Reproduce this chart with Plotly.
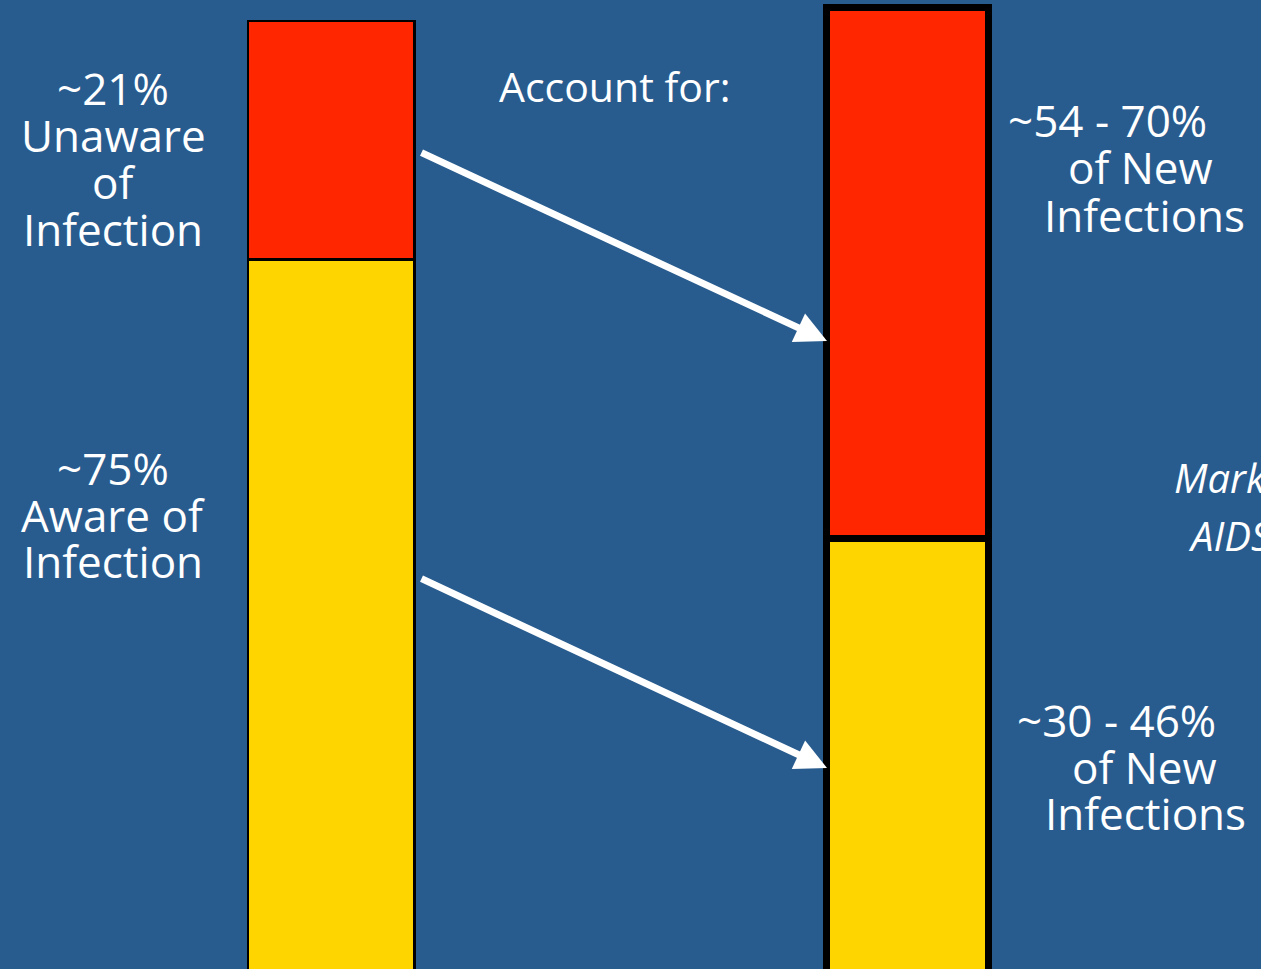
import plotly.graph_objects as go

# Share of people living with HIV and the share of new infections they account for
categories = ["Living with HIV", "New infections"]
unaware_pct = [21, 54]
aware_pct = [75, 46]

left_labels = ["~21%", "Unaware", "of", "Infection"]
left_labels_low = ["~75%", "Aware of", "Infection"]
right_labels = ["~54 - 70%", "of New", "Infections"]
right_labels_low = ["~30 - 46%", "of New", "Infections"]
header = "Account for:"
source = ["Marks G, et al.", "AIDS 2006"]

BG = "#285C8F"
RED = "#FF2600"
YELLOW = "#FFD500"
W, H = 1261, 969
FONT = "Open Sans"

fig = go.Figure()

# left column: people living with HIV (own value axis)
fig.add_bar(x=[categories[0]], y=[aware_pct[0]], width=0.2895,
            marker=dict(color=YELLOW, line=dict(color="black", width=2.5)),
            yaxis="y", hoverinfo="skip")
fig.add_bar(x=[categories[0]], y=[unaware_pct[0]], width=0.2895,
            marker=dict(color=RED, line=dict(color="black", width=2.5)),
            yaxis="y", hoverinfo="skip")
# right column: new infections (own value axis)
fig.add_bar(x=[categories[1]], y=[aware_pct[1]], width=0.2813,
            marker=dict(color=YELLOW, line=dict(color="black", width=7)),
            yaxis="y2", hoverinfo="skip")
fig.add_bar(x=[categories[1]], y=[unaware_pct[1]], width=0.2813,
            marker=dict(color=RED, line=dict(color="black", width=7)),
            yaxis="y2", hoverinfo="skip")

annotations = []


def label(text, x, baseline, anchor="center", size=44, italic=False):
    txt = f"<i>{text}</i>" if italic else text
    annotations.append(dict(
        text=txt, x=x / W, y=1 - (baseline - size * 0.36) / H,
        xref="paper", yref="paper", xanchor=anchor, yanchor="middle",
        showarrow=False, font=dict(family=FONT, size=size, color="white")))


for txt, b in zip(left_labels, [104, 151, 198, 245]):
    label(txt, 113, b)
for txt, b in zip(left_labels_low, [484, 531, 577]):
    label(txt, 113, b)
for txt, x, b in zip(right_labels, [1006, 1066, 1042], [136, 183, 231]):
    label(txt, x, b, anchor="left")
for txt, x, b in zip(right_labels_low, [1015, 1070, 1043], [736, 783, 829]):
    label(txt, x, b, anchor="left")
label(header, 497, 101, anchor="left", size=41)
label(source[0], 1172, 492, anchor="left", size=40, italic=True)
label(source[1], 1186, 550, anchor="left", size=40, italic=True)

# arrows linking each group to its share of new infections
for (tx, ty), (hx, hy) in [((420, 152), (827, 341)), ((420, 578), (827, 768))]:
    annotations.append(dict(
        x=hx / W, y=1 - hy / H, xref="paper", yref="paper",
        ax=tx - hx, ay=ty - hy, axref="pixel", ayref="pixel",
        showarrow=True, arrowhead=2, arrowsize=0.9, arrowwidth=7,
        arrowcolor="white", text=""))

fig.update_layout(
    width=W, height=H, margin=dict(l=0, r=0, t=0, b=0),
    paper_bgcolor=BG, plot_bgcolor=BG, barmode="stack", showlegend=False,
    xaxis=dict(type="category", categoryarray=categories, range=[-0.5753, 1.6143],
               visible=False, fixedrange=True),
    # bars run past the lower edge of the view
    yaxis=dict(range=[12.53, 97.849], visible=False, fixedrange=True),
    yaxis2=dict(range=[2.217, 100.763], visible=False, overlaying="y",
                fixedrange=True),
    annotations=annotations,
)

fig.write_html("out.html", config={"displayModeBar": False})
